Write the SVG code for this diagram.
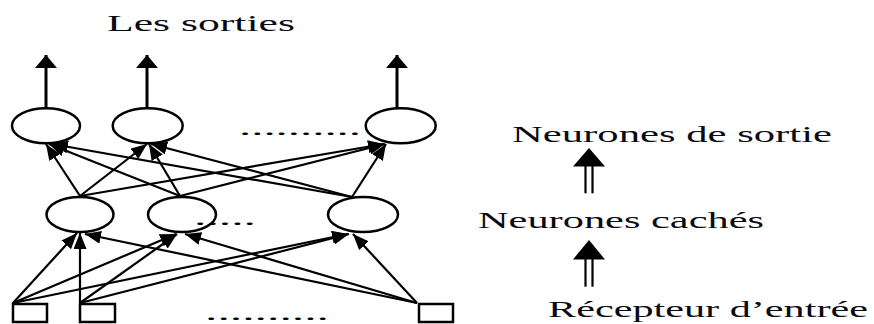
<svg xmlns="http://www.w3.org/2000/svg" width="874" height="324" viewBox="0 0 874 324">
<style>
.node{fill:#fff;stroke:#000;stroke-width:2.5}
.c{stroke:#000;stroke-width:2.2;fill:none;marker-end:url(#ah)}
.o{stroke:#000;stroke-width:3;fill:none;marker-end:url(#up)}
.t{font-family:"Liberation Serif","Times New Roman",serif;font-size:22.5px;fill:#0a0a14}
.d{font-family:"Liberation Serif","Times New Roman",serif;font-size:22px;fill:#000}
.dbl{stroke:#000;stroke-width:2.2}
</style>
<defs>
<marker id="ah" markerUnits="userSpaceOnUse" markerWidth="16" markerHeight="13" refX="16" refY="6.5" orient="auto"><path d="M0,0 L16,6.5 L0,13 z" fill="#000"/></marker>
<marker id="up" markerUnits="userSpaceOnUse" markerWidth="13" markerHeight="22" refX="13" refY="11" orient="auto"><path d="M0,0 L13,11 L0,22 z" fill="#000"/></marker>
</defs>
<rect width="874" height="324" fill="#fff"/>

<g id="connectors">
<line class="c" x1="13" y1="303" x2="77" y2="233"/>
<line class="c" x1="80" y1="303" x2="80" y2="233"/>
<line class="c" x1="417" y1="303" x2="85" y2="234"/>
<line class="c" x1="13" y1="303" x2="176" y2="234"/>
<line class="c" x1="80" y1="303" x2="177" y2="234"/>
<line class="c" x1="417" y1="303" x2="185" y2="234"/>
<line class="c" x1="13" y1="303" x2="348" y2="234"/>
<line class="c" x1="80" y1="303" x2="349" y2="234"/>
<line class="c" x1="417" y1="303" x2="353" y2="234"/>
<line class="c" x1="80" y1="196" x2="46" y2="144"/>
<line class="c" x1="180" y1="196" x2="49" y2="144"/>
<line class="c" x1="352" y1="197" x2="52" y2="144"/>
<line class="c" x1="80" y1="196" x2="147" y2="144"/>
<line class="c" x1="180" y1="196" x2="149" y2="144"/>
<line class="c" x1="352" y1="197" x2="151" y2="144"/>
<line class="c" x1="80" y1="196" x2="384" y2="144"/>
<line class="c" x1="180" y1="196" x2="385" y2="144"/>
<line class="c" x1="352" y1="197" x2="386" y2="144"/>
<line class="o" x1="46" y1="108" x2="46" y2="55"/>
<line class="o" x1="147" y1="108" x2="147" y2="55"/>
<line class="o" x1="397" y1="108" x2="397" y2="55"/>
</g>

<g id="out1"><ellipse class="node" cx="46" cy="125.8" rx="34" ry="17.5"/></g>
<g id="out2"><ellipse class="node" cx="147.7" cy="125.8" rx="35" ry="17.5"/></g>
<g id="out3"><ellipse class="node" cx="400.7" cy="125.8" rx="35" ry="17.5"/></g>
<g id="hid1"><ellipse class="node" cx="80" cy="214.5" rx="33.5" ry="17.5"/></g>
<g id="hid2"><ellipse class="node" cx="182" cy="214.5" rx="34" ry="17.5"/></g>
<g id="hid3"><ellipse class="node" cx="363" cy="214.5" rx="35" ry="17.5"/></g>
<g id="in1"><rect class="node" x="13" y="304" width="34" height="18"/></g>
<g id="in2"><rect class="node" x="80" y="304" width="35" height="18"/></g>
<g id="in3"><rect class="node" x="419" y="304" width="34" height="18"/></g>

<g id="dots">
<text class="d" x="239" y="135" textLength="122" lengthAdjust="spacingAndGlyphs">..........</text>
<text class="d" x="194" y="225" textLength="62" lengthAdjust="spacingAndGlyphs">.....</text>
<text class="d" x="205" y="319.5" textLength="124" lengthAdjust="spacingAndGlyphs">..........</text>
</g>

<g id="label-sorties"><text class="t" x="107" y="30.7" textLength="188" lengthAdjust="spacingAndGlyphs" style="font-size:23px">Les sorties</text></g>
<g id="label-out"><text class="t" x="512" y="141.7" textLength="320" lengthAdjust="spacingAndGlyphs">Neurones de sortie</text></g>
<g id="label-hid"><text class="t" x="478" y="228.3" textLength="286" lengthAdjust="spacingAndGlyphs">Neurones cachés</text></g>
<g id="label-in"><text class="t" x="548" y="316.7" textLength="320" lengthAdjust="spacingAndGlyphs">Récepteur d’entrée</text></g>

<g id="flow1">
<polygon points="589,148 605,166.5 573,166.5" fill="#000"/>
<line class="dbl" x1="585.5" y1="166" x2="585.5" y2="193.3"/>
<line class="dbl" x1="592.5" y1="166" x2="592.5" y2="193.3"/>
</g>
<g id="flow2">
<polygon points="589,240 605,259.5 573,259.5" fill="#000"/>
<line class="dbl" x1="585.5" y1="259" x2="585.5" y2="286.7"/>
<line class="dbl" x1="592.5" y1="259" x2="592.5" y2="286.7"/>
</g>
</svg>
